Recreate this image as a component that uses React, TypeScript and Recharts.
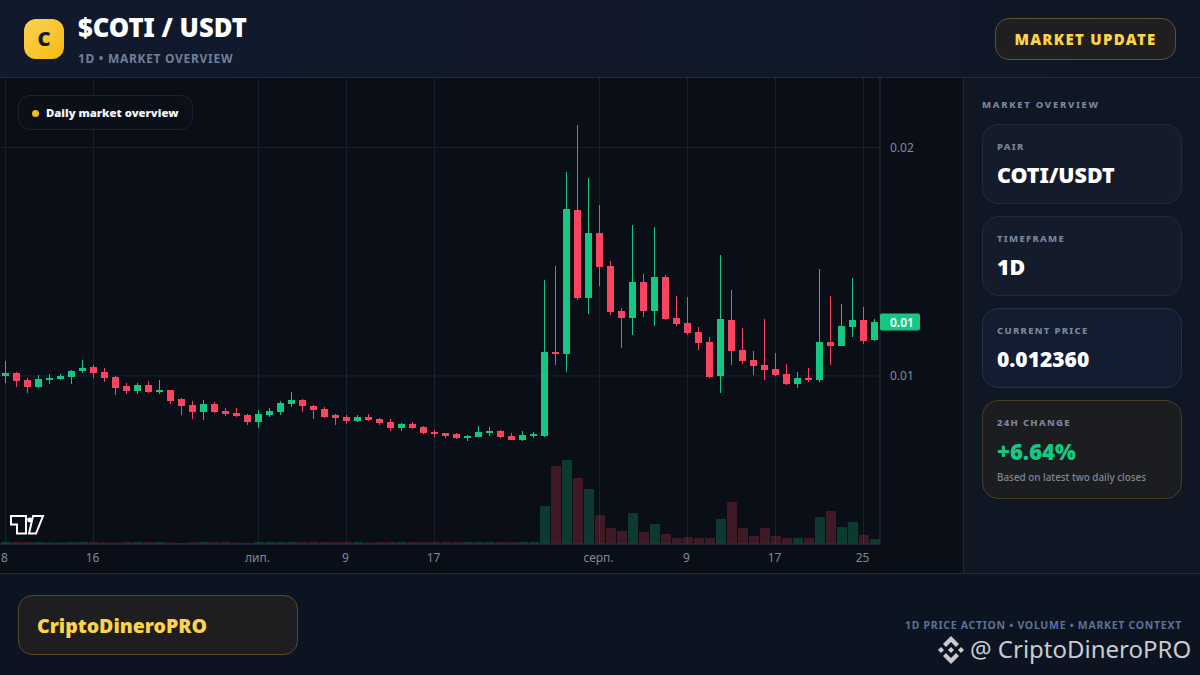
import React from "react";
import { ComposedChart, Bar, XAxis, YAxis, ReferenceLine } from "recharts";

const opens = [0.01,0.010131,0.009825,0.009519,0.009825,0.009869,0.009956,0.010219,0.010394,0.010175,0.009956,0.009562,0.009344,0.009606,0.0093,0.009387,0.008994,0.008731,0.008425,0.008775,0.008468,0.008381,0.008293,0.007987,0.008293,0.008425,0.008775,0.00895,0.008687,0.008556,0.008293,0.008206,0.008031,0.008206,0.008118,0.007987,0.007724,0.0079,0.007768,0.007549,0.007506,0.007462,0.007287,0.007331,0.007506,0.007593,0.007374,0.007199,0.007374,0.007374,0.01105,0.010963,0.017264,0.013413,0.016258,0.014814,0.012844,0.012538,0.014113,0.012844,0.014332,0.012538,0.012319,0.011925,0.011488,0.01,0.012451,0.011138,0.0107,0.010481,0.010306,0.010088,0.00965,0.009912,0.009825,0.011488,0.011313,0.012144,0.012451,0.011575];
const highs = [0.010656,0.010175,0.009912,0.010044,0.010088,0.010088,0.010263,0.0107,0.010481,0.01035,0.01,0.009694,0.009694,0.009781,0.009825,0.009387,0.009037,0.008906,0.00895,0.008862,0.0086,0.0086,0.008337,0.008512,0.0086,0.008906,0.0093,0.008994,0.008731,0.008643,0.008337,0.008293,0.008293,0.008337,0.008162,0.008118,0.007943,0.007987,0.007812,0.007637,0.007506,0.007506,0.007418,0.007812,0.007768,0.007637,0.007506,0.007593,0.007549,0.014201,0.014814,0.018927,0.020984,0.018664,0.017483,0.015032,0.012976,0.016608,0.014464,0.01652,0.01442,0.013501,0.013457,0.012144,0.011707,0.015295,0.013763,0.0121,0.011094,0.012494,0.011006,0.010525,0.010175,0.01035,0.014682,0.013501,0.013151,0.014288,0.013019,0.012494];
const lows = [0.009694,0.009519,0.009256,0.009475,0.00965,0.009825,0.00965,0.010131,0.009912,0.009737,0.009169,0.009212,0.009212,0.009256,0.009212,0.008775,0.008293,0.008118,0.008075,0.008381,0.00825,0.008206,0.007856,0.007724,0.008206,0.008293,0.008643,0.008425,0.008118,0.008162,0.007856,0.0079,0.007987,0.008031,0.007856,0.007593,0.007593,0.007681,0.007462,0.007331,0.007287,0.007243,0.007156,0.007331,0.007374,0.007287,0.007199,0.007156,0.007287,0.007331,0.010481,0.010175,0.013326,0.012713,0.013938,0.012669,0.011225,0.011794,0.012582,0.012188,0.012451,0.012188,0.011794,0.011138,0.009912,0.009256,0.010481,0.010525,0.010044,0.009825,0.01,0.009606,0.009475,0.009737,0.009737,0.010481,0.011313,0.011707,0.0114,0.011532];
const closes = [0.010131,0.009781,0.009519,0.009869,0.009912,0.01,0.010219,0.01035,0.010131,0.009912,0.009475,0.009344,0.009606,0.0093,0.009387,0.008906,0.008687,0.008425,0.008775,0.008425,0.008337,0.00825,0.007987,0.008337,0.008468,0.008818,0.00895,0.008687,0.008512,0.008206,0.008162,0.008031,0.008206,0.008075,0.007943,0.007724,0.0079,0.007724,0.007506,0.007462,0.007374,0.007287,0.007374,0.007549,0.007593,0.007331,0.007199,0.007418,0.007462,0.01105,0.010963,0.017308,0.013413,0.016258,0.01477,0.012801,0.012538,0.014113,0.012844,0.014332,0.012494,0.012276,0.011882,0.011444,0.009956,0.012494,0.011094,0.010656,0.010438,0.010263,0.010044,0.00965,0.009912,0.009825,0.011488,0.011313,0.012188,0.012451,0.011532,0.01236];
const volumes = [2,2,2,2,1.5,1.5,2,2,2,1.5,1.5,2,2,2,2,1.5,1,2,2,2,2,1.5,1,2,2,2,2,2,2,2,2,2,2,1.5,2,2,2,2,2,2,2,2,2,2,2,2,2,2,2,38,78,84,66,55,29,16,13,31,12,20,10,6,7,6,6,25,42,16,8,16,8,6,6,6,27,33,17,22,9,5];
const tickIndexes = [0,8,23,31,39,54,62,70,78];
const tickLabels = ["8","16","лип.","9","17","серп.","9","17","25"];
const priceTicks = [0.01,0.01236,0.02];
const gridPrices = [0.01,0.02];
const currentPrice = 0.01236;

const UP = "#16c784";
const DOWN = "#fb4560";
const FONT = '"Noto Sans", sans-serif';

const rows = opens.map((o, i) => ({
  idx: i, open: o, high: highs[i], low: lows[i], close: closes[i], volume: volumes[i],
}));

function Candle(props: any) {
  const { x, y, width, height, payload } = props;
  const { open, close, high, low } = payload;
  const perUnit = Math.abs(height) / (high - low);
  const at = (v: number) => y + (high - v) * perUnit;
  const top = Math.round(at(Math.max(open, close)));
  const bot = Math.round(at(Math.min(open, close)));
  const color = close >= open ? UP : DOWN;
  const cx = x + width / 2;
  return (
    <g>
      <rect x={cx - 0.5} y={Math.round(y)} width={1} height={Math.round(Math.abs(height))} fill={color} />
      <rect x={x} y={top} width={width} height={Math.max(bot - top, 2)} fill={color} />
    </g>
  );
}

function VolumeBar(props: any) {
  const { x, y, width, height, payload } = props;
  const up = payload.close >= payload.open;
  return <rect x={x} y={y} width={width} height={height} fill={up ? UP : DOWN} fillOpacity={up ? 0.24 : 0.22} />;
}

function PriceTick(props: any) {
  const { y, payload } = props;
  const isNow = payload.value === currentPrice;
  const x0 = 880;
  if (isNow) {
    return (
      <g>
        <rect x={x0} y={y - 8.5} width={40} height={17} rx={2} fill={UP} />
        <text x={x0 + 10} y={y + 4.5} fontSize={12} fontWeight={600} fill="#ffffff" fontFamily={FONT}>{payload.value.toFixed(2)}</text>
      </g>
    );
  }
  return <text x={x0 + 10} y={y + 4.5} fontSize={12} fill="#7f8a9c" fontFamily={FONT}>{payload.value.toFixed(2)}</text>;
}

const cardBase: React.CSSProperties = {
  position: "absolute", left: 982, width: 200, boxSizing: "border-box",
  borderRadius: 16, border: "1px solid #1f2a3c", background: "#141c2b",
};
const cardLabel: React.CSSProperties = {
  position: "absolute", left: 14, fontSize: 9.5, fontWeight: 800, letterSpacing: 1.3, color: "#7b869b", whiteSpace: "nowrap",
};
const cardValue: React.CSSProperties = {
  position: "absolute", left: 14, fontWeight: 900, color: "#ffffff", whiteSpace: "nowrap",
};

export default function App() {
  return (
    <div style={{ position: "absolute", left: 0, top: 0, width: 1200, height: 675, overflow: "hidden", background: "#0a0e17", fontFamily: FONT }}>
      {/* header */}
      <div style={{ position: "absolute", left: 0, top: 0, width: 1200, height: 78, boxSizing: "border-box", borderBottom: "1px solid #232c3e", background: "linear-gradient(90deg,#111a2c,#0f1727)" }} />
      <div style={{ position: "absolute", left: 24, top: 19, width: 40, height: 40, borderRadius: 12, background: "linear-gradient(135deg,#fbd250,#f5bb12)", color: "#111a2c", fontWeight: 900, fontSize: 20, lineHeight: "40px", textAlign: "center" }}>C</div>
      <div style={{ position: "absolute", left: 78, top: 10, fontSize: 25.6, lineHeight: "36px", fontWeight: 900, color: "#fff", whiteSpace: "nowrap" }}>$COTI / USDT</div>
      <div style={{ position: "absolute", left: 78, top: 50, fontSize: 12, lineHeight: "18px", fontWeight: 700, letterSpacing: 0.7, color: "#6f7f99", whiteSpace: "nowrap" }}>1D • MARKET OVERVIEW</div>
      <div style={{ position: "absolute", left: 995, top: 18, width: 181, height: 42, boxSizing: "border-box", borderRadius: 14, border: "1px solid #5f5130", background: "#1f1f21", color: "#fcd34d", fontSize: 15, fontWeight: 900, letterSpacing: 1.3, lineHeight: "40px", textAlign: "center", whiteSpace: "nowrap" }}>MARKET UPDATE</div>

      {/* chart */}
      <div style={{ position: "absolute", left: 0, top: 78 }}>
        <ComposedChart width={963} height={495} data={rows} margin={{ top: 0, right: 0, bottom: 0, left: 0 }}>
          <XAxis xAxisId="price" dataKey="idx" type="category" ticks={tickIndexes} interval={0}
            tickFormatter={(v: number) => tickLabels[tickIndexes.indexOf(v)]}
            height={29} tickLine={false} axisLine={{ stroke: "#2a3344" }}
            tick={{ fill: "#7f8a9c", fontSize: 12, fontFamily: FONT, dx: -1 }} tickMargin={3} />
          <XAxis xAxisId="vol" dataKey="idx" type="category" hide />
          <YAxis yAxisId="price" orientation="right" width={83} domain={[0.002648, 0.02304]} allowDataOverflow
            ticks={priceTicks} interval={0} tickLine={false} axisLine={{ stroke: "#2a3344" }} tick={<PriceTick />} />
          <YAxis yAxisId="vol" hide domain={[0, 466]} allowDataOverflow />
          {gridPrices.map((p) => (
            <ReferenceLine key={p} xAxisId="price" yAxisId="price" y={p} stroke="#1a2130" zIndex={-1} />
          ))}
          {tickIndexes.map((t) => (
            <ReferenceLine key={t} xAxisId="price" yAxisId="price" x={t} stroke="#1a2130" zIndex={-1} />
          ))}
          <Bar xAxisId="vol" yAxisId="vol" dataKey="volume" barSize={10} isAnimationActive={false} shape={<VolumeBar />} />
          <Bar xAxisId="price" yAxisId="price" dataKey={(d: any) => [d.low, d.high]} barSize={7} isAnimationActive={false} shape={<Candle />} />
        </ComposedChart>
      </div>

      {/* chip */}
      <div style={{ position: "absolute", left: 18, top: 95, width: 175, height: 35, boxSizing: "border-box", borderRadius: 12, border: "1px solid #1c2230", background: "#0b0f18" }}>
        <div style={{ position: "absolute", left: 13, top: 14, width: 7, height: 7, borderRadius: 4, background: "#f7bd1a" }} />
        <div style={{ position: "absolute", left: 27, top: 8, fontSize: 11.3, lineHeight: "18px", fontWeight: 900, color: "#f3f5f8", whiteSpace: "nowrap" }}>Daily market overview</div>
      </div>

      {/* TV logo */}
      <svg style={{ position: "absolute", left: 8, top: 513 }} width={40} height={24}>
        <path d="M3 3H18V20.5H9V11.5H3Z M25 3H35L28 20.5H21Z" fill="#0a0e17" stroke="#fff" strokeWidth={2} />
        <circle cx={21.5} cy={7} r={2.4} fill="#fff" />
      </svg>

      {/* sidebar */}
      <div style={{ position: "absolute", left: 963, top: 78, width: 237, height: 495, boxSizing: "border-box", borderLeft: "1px solid #1f2838", background: "#0f1624" }} />
      <div style={{ position: "absolute", left: 982, top: 98, fontSize: 9.5, lineHeight: "14px", fontWeight: 800, letterSpacing: 1.7, color: "#7b869b", whiteSpace: "nowrap" }}>MARKET OVERVIEW</div>
      <div style={{ ...cardBase, top: 124, height: 80 }}>
        <div style={{ ...cardLabel, top: 15 }}>PAIR</div>
        <div style={{ ...cardValue, top: 34, fontSize: 21.4, lineHeight: "32px" }}>COTI/USDT</div>
      </div>
      <div style={{ ...cardBase, top: 216, height: 80 }}>
        <div style={{ ...cardLabel, top: 15 }}>TIMEFRAME</div>
        <div style={{ ...cardValue, top: 34, fontSize: 21.4, lineHeight: "32px" }}>1D</div>
      </div>
      <div style={{ ...cardBase, top: 308, height: 80, background: "#121d31", borderColor: "#21324f" }}>
        <div style={{ ...cardLabel, top: 15 }}>CURRENT PRICE</div>
        <div style={{ ...cardValue, top: 34, fontSize: 21, lineHeight: "32px" }}>0.012360</div>
      </div>
      <div style={{ ...cardBase, top: 400, height: 99, background: "#1b1d20", borderColor: "#453d26" }}>
        <div style={{ ...cardLabel, top: 15 }}>24H CHANGE</div>
        <div style={{ ...cardValue, top: 34, fontSize: 22, lineHeight: "32px", color: UP }}>+6.64%</div>
        <div style={{ position: "absolute", left: 14, top: 69, fontSize: 9.9, lineHeight: "14px", fontWeight: 500, color: "#7d8797", whiteSpace: "nowrap" }}>Based on latest two daily closes</div>
      </div>

      {/* footer */}
      <div style={{ position: "absolute", left: 0, top: 573, width: 1200, height: 102, boxSizing: "border-box", borderTop: "1px solid #222b3b", background: "#0d1421" }} />
      <div style={{ position: "absolute", left: 18, top: 595, width: 280, height: 60, boxSizing: "border-box", borderRadius: 14, border: "1px solid #574a25", background: "#1e1e20", color: "#fcd34d", fontSize: 19.5, fontWeight: 900, lineHeight: "60px", paddingLeft: 18, whiteSpace: "nowrap" }}>CriptoDineroPRO</div>
      <div style={{ position: "absolute", right: 18, top: 617, fontSize: 10.5, lineHeight: "16px", fontWeight: 700, letterSpacing: 0.72, color: "#5b7299", whiteSpace: "nowrap" }}>1D PRICE ACTION • VOLUME • MARKET CONTEXT</div>
      <svg style={{ position: "absolute", left: 936, top: 635 }} width={30} height={30} viewBox="0 0 30 30">
        <g fill="#c9cbce">
          <path d="M15 1 L23 9 L20 12 L15 7 L10 12 L7 9 Z" />
          <path d="M15 29 L7 21 L10 18 L15 23 L20 18 L23 21 Z" />
          <path d="M5 12 L8 15 L5 18 L2 15 Z" />
          <path d="M25 12 L28 15 L25 18 L22 15 Z" />
          <path d="M15 12 L18 15 L15 18 L12 15 Z" />
        </g>
      </svg>
      <div style={{ position: "absolute", left: 970, top: 632, fontSize: 24, lineHeight: "34px", color: "#c9cbce", whiteSpace: "nowrap" }}>@ CriptoDineroPRO</div>
    </div>
  );
}
